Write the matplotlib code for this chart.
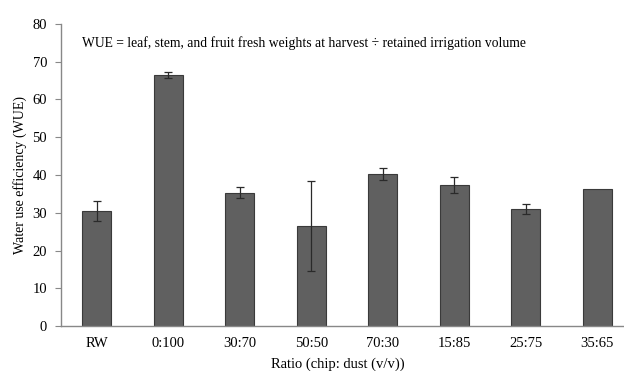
import matplotlib.pyplot as plt
import numpy as np

plt.rcParams['font.family'] = ['Liberation Serif', 'DejaVu Serif']

ratios = ['RW', '0:100', '30:70', '50:50', '70:30', '15:85', '25:75', '35:65']
wue = [30.5, 66.4, 35.3, 26.5, 40.2, 37.4, 31.0, 36.3]
wue_err = [2.6, 0.8, 1.4, 12.0, 1.6, 2.2, 1.3, 0.0]

fig = plt.figure(figsize=(6.24, 3.71), dpi=100)
# axes runs a little past the right edge of the picture, as in the original
ax = fig.add_axes([61 / 624, 45 / 371, 572 / 624, 302 / 371])

x = np.arange(len(ratios))
ax.bar(x, wue, width=0.4, color='#606060', edgecolor='#3a3a3a', linewidth=0.8)
ax.errorbar(x[:-1], wue[:-1], yerr=wue_err[:-1], fmt='none', ecolor='#2a2a2a',
            elinewidth=0.9, capsize=3, capthick=0.9)

ax.set_xlim(-0.5, 7.5)
ax.set_ylim(0, 80)
ax.set_yticks(range(0, 81, 10))
ax.set_xticks(x)
ax.set_xticklabels(ratios)
ax.tick_params(axis='x', length=0, pad=8, labelsize=10.5)
ax.tick_params(axis='y', length=4, color='#888888', labelsize=10.5, pad=6)

for side in ['top', 'right']:
    ax.spines[side].set_visible(False)
for side in ['left', 'bottom']:
    ax.spines[side].set_color('#888888')
    ax.spines[side].set_linewidth(1.0)

ax.set_ylabel('Water use efficiency (WUE)', fontsize=10, labelpad=4)
ax.set_xlabel('Ratio (chip: dust (v/v))', fontsize=10.5)
ax.xaxis.set_label_coords(277 / 572, -0.128)
ax.xaxis.label.set_va('center')

fig.text(82 / 624, 1 - 43 / 371,
         'WUE = leaf, stem, and fruit fresh weights at harvest \u00f7 retained irrigation volume',
         fontsize=9.8, va='center', ha='left')

fig.savefig('out.png', dpi=100)
